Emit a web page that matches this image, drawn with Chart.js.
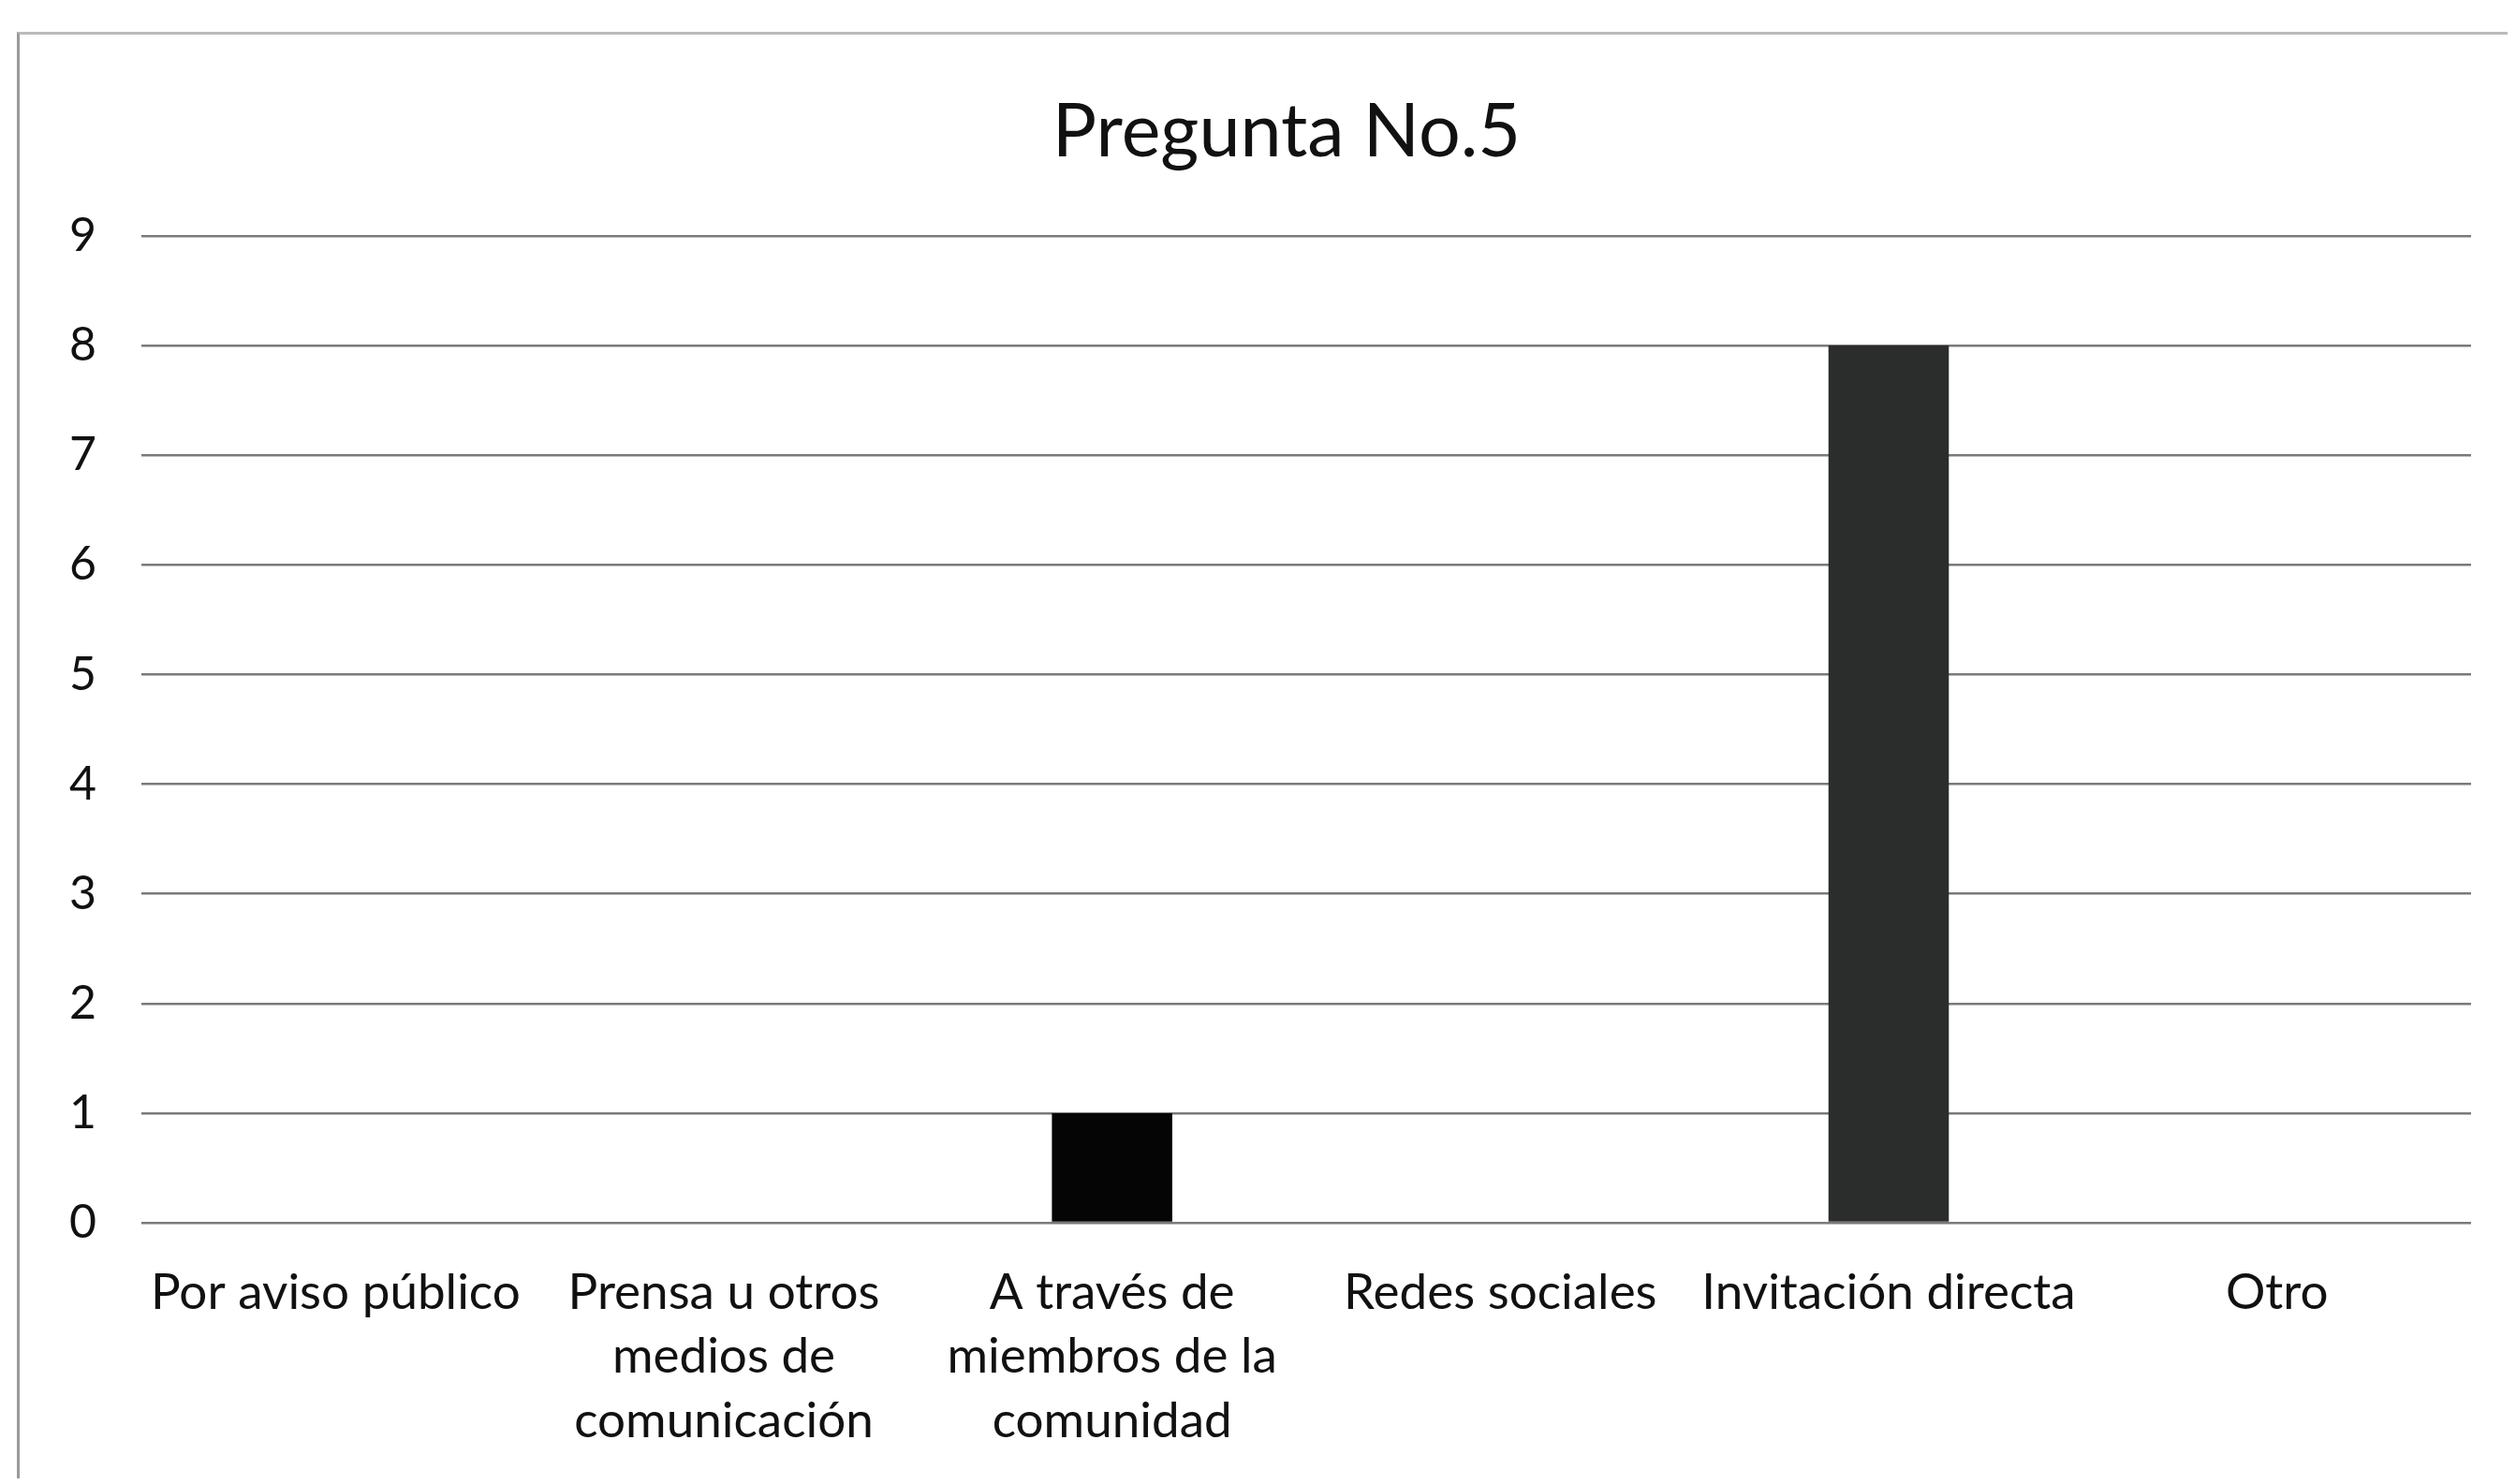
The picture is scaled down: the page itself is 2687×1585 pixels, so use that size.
<!DOCTYPE html>
<html>
<head>
<meta charset="utf-8">
<script src="https://cdn.jsdelivr.net/npm/chart.js@4"></script>
<style>
html,body{margin:0;padding:0;background:#fff;}
#wrap{position:absolute;left:0;top:0;width:2687px;height:1585px;}
#frame{position:absolute;left:18px;top:34px;width:2660px;height:1545px;border-left:3px solid #999;border-top:3px solid #bbb;box-sizing:border-box;}
canvas{position:absolute;left:0;top:0;}
#title{position:absolute;left:1374px;top:137px;transform:translate(-50%,-50%);font-family:Lato;font-size:79px;color:#111;white-space:nowrap;line-height:1.2;z-index:2;}
</style>
</head>
<body>
<div id="wrap">
<div id="frame"></div>
<canvas id="c" width="2687" height="1585"></canvas>
<div id="title"></div>
</div>
<script>
const chartTitle = "Pregunta No.5";
const categories = [
  "Por aviso público",
  ["Prensa u otros", "medios de", "comunicación"],
  ["A través de", "miembros de la", "comunidad"],
  "Redes sociales",
  "Invitación directa",
  "Otro"
];
const responses = [0, 0, 1, 0, 8, 0];
const yTicks = [0, 1, 2, 3, 4, 5, 6, 7, 8, 9];

const barColors = ["#000000", "#000000", "#050505", "#000000", "#2b2d2c", "#000000"];

document.getElementById("title").textContent = chartTitle;

new Chart(document.getElementById("c"), {
  type: "bar",
  data: {
    labels: categories,
    datasets: [{
      data: responses,
      backgroundColor: barColors,
      borderWidth: 0,
      barPercentage: 0.31,
      categoryPercentage: 1.0
    }]
  },
  options: {
    responsive: false,
    animation: false,
    devicePixelRatio: 1,
    layout: { padding: { left: 0, right: 48, top: 252, bottom: 0 } },
    plugins: {
      legend: { display: false },
      tooltip: { enabled: false },
      title: { display: false }
    },
    scales: {
      x: {
        grid: { display: false, drawTicks: false },
        border: { display: false },
        ticks: {
          color: "#111",
          font: { family: "Lato", size: 53, lineHeight: 1.3 },
          padding: 40,
          maxRotation: 0,
          minRotation: 0,
          autoSkip: false
        },
        afterFit: (s) => { s.height = 279; }
      },
      y: {
        min: 0,
        max: 9,
        afterBuildTicks: (s) => { s.ticks = yTicks.map(v => ({ value: v })); },
        grid: { color: "#7a7a7a", lineWidth: 2.5, drawTicks: false },
        border: { display: false },
        ticks: {
          color: "#111",
          font: { family: "Lato", size: 50 },
          padding: 48
        },
        afterFit: (s) => { s.width = 151; }
      }
    }
  }
});
</script>
</body>
</html>
